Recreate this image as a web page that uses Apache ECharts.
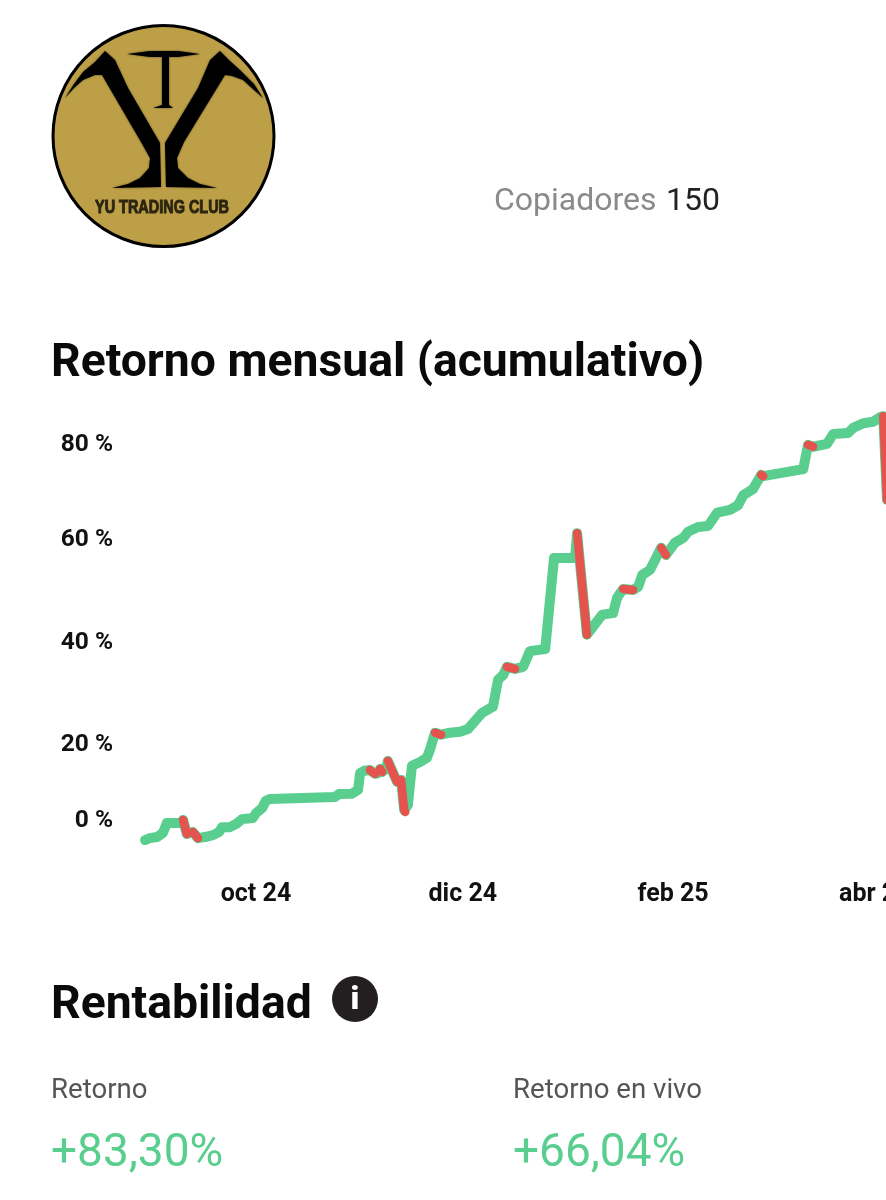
<!DOCTYPE html>
<html><head><meta charset="utf-8">
<style>html,body{margin:0;padding:0;background:#fff}#c{width:886px;height:1200px}</style>
<script src="https://cdn.jsdelivr.net/npm/echarts@6/dist/echarts.min.js"></script>
</head><body><div id="c"></div>
<script>
// Days since 1 Oct 2024
const days = [-32.7,-31.3,-29.2,-27.4,-26.3,-22.1,-21.5,-20.4,-19.5,-18.6,-17.1,-15.0,-12.7,-10.9,-10.0,-7.7,-5.9,-4.1,-0.9,0,1.8,2.9,4.1,23.3,24.5,28.3,30.1,30.7,31.9,33.6,35.1,36,36.6,37.2,38.3,38.9,41.6,42.2,42.8,43.7,44,44.8,46,48.4,50.4,51.3,52.8,54.6,57.2,60.2,62.5,66.7,69.9,71.4,72.9,74,76.4,78.8,80.8,85.3,87.9,94.1,94.7,97.6,102.1,105.3,106.5,108.3,111.2,112.7,113.9,116.2,119.5,120.9,123.6,126,127.4,130.4,133.3,136,139.8,142.2,143.7,146.6,149,149.6,161.4,162.8,164.3,168.4,170.2,174.6,176.1,179.1,182,184.1,185,186.1];
// Cumulative return, %
const returns = [-5.8,-5.3,-5.0,-3.9,-1.3,-1.3,-0.5,-4.2,-3.9,-3.7,-5.3,-5.0,-4.5,-3.7,-2.4,-2.4,-1.6,-0.3,0,1.3,2.6,4.5,5.0,5.5,6.3,6.4,7.4,11.8,12.4,12.6,11.6,11.8,12.9,12.1,12.9,15.0,9.5,9.7,10.0,2.1,1.6,3.4,13.7,14.7,15.8,17.9,21.8,21.4,21.8,22.0,22.5,25.7,26.9,32.2,33.1,34.7,34.3,34.7,37.8,38.2,55.9,55.9,60.8,41.0,44.9,45.2,48.2,49.9,49.7,50.3,52.6,53.6,57.9,56.5,58.9,59.8,61.1,62.1,62.3,65.1,65.7,66.7,68.8,70.1,73.1,72.8,74.3,79.4,79.0,79.6,81.7,81.9,83.0,84.0,84.3,85.3,85.5,67.8];
const monthTicks = [0,61,123,182.5];
const monthLabels = ['oct 24','dic 24','feb 25','abr 25'];
const percentTicks = [0,20,40,60,80];
// The source axis has unevenly spaced ticks: where each tick sits on a linear axis
const tickStops = [0,16.2,37.9,59.8,80];

function warp(v){
  if(v<=0) return v*tickStops[1]/20;
  if(v>=80) return tickStops[4]+(v-80);
  const i=Math.floor(v/20);
  return tickStops[i]+(v-percentTicks[i])/20*(tickStops[i+1]-tickStops[i]);
}
const green=[],red=[];
days.forEach((d,i)=>{
  green.push([d,warp(returns[i])]);
  if(i<days.length-1 && returns[i+1]<returns[i]){
    red.push([d,warp(returns[i])],[days[i+1],warp(returns[i+1])],[days[i+1],null]);
  }
});
const GREEN='#59CE8F',RED='#E5534F',F='Roboto, sans-serif';
const black='#000';
const poly=(pts,fill,blur)=>({type:'polygon',shape:{points:pts},style:{fill:fill||black,shadowBlur:blur===undefined?2:blur,shadowColor:'rgba(0,0,0,.6)'}});
const txt=(text,x,y,font,fill)=>({type:'text',style:{text,x,y,font,fill,verticalAlign:'middle'}});
const graphic=[
 {type:'circle',shape:{cx:163.5,cy:136,r:110.5},style:{fill:'#BC9F47',stroke:'#000',lineWidth:3}},
 poly([[65,98],[74,84],[83,72],[95,62],[105,51],[115,60],[128,88],[160,143],[161,187],[112,188],[128,184],[140,178],[149,168],[150,158],[141,142],[102,75],[95,75],[83,80],[74,88]]),
 poly([[263,98],[254,84],[240,70],[230,61],[220,51],[210,60],[198,88],[165,143],[166,187],[217,188],[200,184],[188,178],[178,168],[177,158],[184,142],[225,75],[232,76],[243,80],[254,90]]),
 poly([[127,54],[150,51],[178,51],[200,54],[178,57],[169,57],[169,105],[173,108],[153,108],[162,105],[162,57],[150,57]]),
 {type:'text',x:162,y:208,scaleX:0.76,style:{text:'YU TRADING CLUB',x:0,y:0,align:'center',verticalAlign:'middle',font:'bold 19px "Liberation Sans", sans-serif',fill:'#2a2410',stroke:'#2a2410',lineWidth:1}},
 txt('Copiadores',494,202,'32px '+F,'#8a8a8a'),
 txt('150',666,202,'32px '+F,'#222'),
 txt('Retorno mensual (acumulativo)',51,364,'bold 46.3px '+F,'#0a0a0a'),
 txt('Rentabilidad',51,1006,'bold 46.3px '+F,'#0a0a0a'),
 {type:'circle',shape:{cx:355,cy:999,r:23},style:{fill:'#231f20'}},
 {type:'text',style:{text:'i',x:355,y:1001,align:'center',verticalAlign:'middle',font:'900 32px '+F,fill:'#fff'}},
 txt('Retorno',51,1091,'27.6px '+F,'#555'),
 txt('Retorno en vivo',513,1091,'27.6px '+F,'#555'),
 txt('+83,30%',51,1154,'46px '+F,GREEN),
 txt('+66,04%',513,1154,'46px '+F,GREEN)
];
const chart=echarts.init(document.getElementById('c'),null,{renderer:'canvas'});
chart.setOption({
 animation:false,
 backgroundColor:'#fff',
 graphic,
 grid:{left:120,top:395,width:766,height:470,containLabel:false,outerBoundsMode:'none'},
 xAxis:{type:'value',min:-40.1,max:185.8,axisLine:{show:false},axisTick:{show:false},splitLine:{show:false},
   axisLabel:{customValues:monthTicks,margin:17,hideOverlap:false,showMinLabel:true,showMaxLabel:true,
     fontFamily:'Roboto',fontWeight:'bold',fontSize:25,color:'#111',
     formatter:v=>monthLabels[monthTicks.indexOf(v)]}},
 yAxis:{type:'value',min:-10,max:90,axisLine:{show:false},axisTick:{show:false},splitLine:{show:false},
   axisLabel:{customValues:tickStops,margin:7,verticalAlign:'top',lineHeight:6,fontFamily:'Roboto',fontWeight:'bold',fontSize:24.5,color:'#111',
     formatter:v=>percentTicks[tickStops.indexOf(v)]+' %'}},
 series:[
  {type:'line',data:green,showSymbol:false,lineStyle:{color:GREEN,width:10,cap:'round',join:'round'},silent:true},
  {type:'line',data:red,showSymbol:false,connectNulls:false,lineStyle:{color:RED,width:8.5,cap:'round',join:'round'},silent:true}
 ]
});
</script></body></html>
